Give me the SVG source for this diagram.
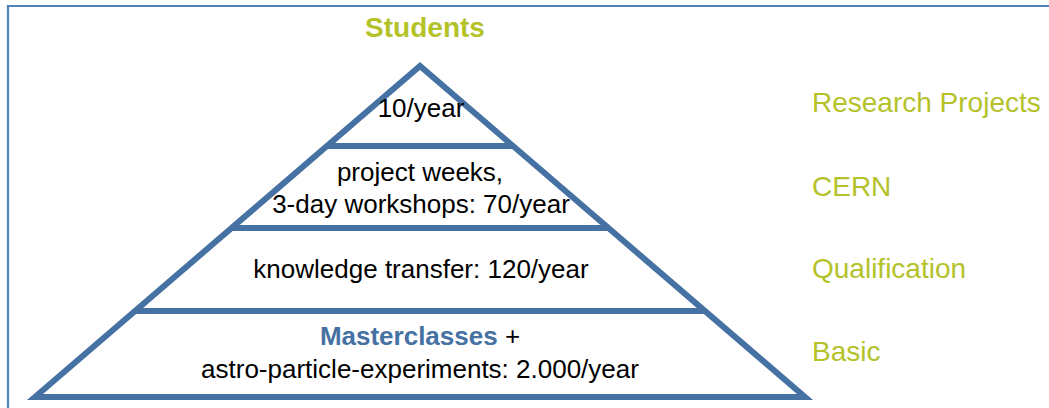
<svg xmlns="http://www.w3.org/2000/svg" width="1049" height="408" viewBox="0 0 1049 408">
<style>
.frame{stroke:#4f81bd;stroke-width:2.2;fill:none}
.pyr{stroke:#4571a3;stroke-width:6;fill:none;stroke-linejoin:miter}
.in{font-family:"Liberation Sans",Arial,sans-serif;font-size:26px;fill:#000;text-anchor:middle}
.lab{font-family:"Liberation Sans",Arial,sans-serif;font-size:28px;fill:#b4c22a}
.hd{font-family:"Liberation Sans",Arial,sans-serif;font-size:28px;font-weight:bold;fill:#b4c22a;text-anchor:middle}
.mc{font-weight:bold;fill:#4571a3}
</style>
<rect width="1049" height="408" fill="#fff"/>
<path class="frame" d="M8 408 V6 H1049"/>
<g id="pyramid">
<polygon class="pyr" points="35,397 420,66 805,397"/>
<line class="pyr" x1="327" y1="146" x2="513" y2="146"/>
<line class="pyr" x1="232" y1="228" x2="608" y2="228"/>
<line class="pyr" x1="136" y1="311" x2="704" y2="311"/>
</g>
<g id="title"><text class="hd" x="425" y="37">Students</text></g>
<g id="level-research">
<text class="in" x="421" y="117">10/year</text>
<text class="lab" x="812" y="112">Research Projects</text>
</g>
<g id="level-cern">
<text class="in" x="420" y="181">project weeks,</text>
<text class="in" x="421" y="213">3-day workshops: 70/year</text>
<text class="lab" x="812" y="196">CERN</text>
</g>
<g id="level-qualification">
<text class="in" x="421" y="278">knowledge transfer: 120/year</text>
<text class="lab" x="812" y="278">Qualification</text>
</g>
<g id="level-basic">
<text class="in" x="420" y="345"><tspan class="mc">Masterclasses</tspan> +</text>
<text class="in" x="420" y="378">astro-particle-experiments: 2.000/year</text>
<text class="lab" x="812" y="361">Basic</text>
</g>
</svg>
